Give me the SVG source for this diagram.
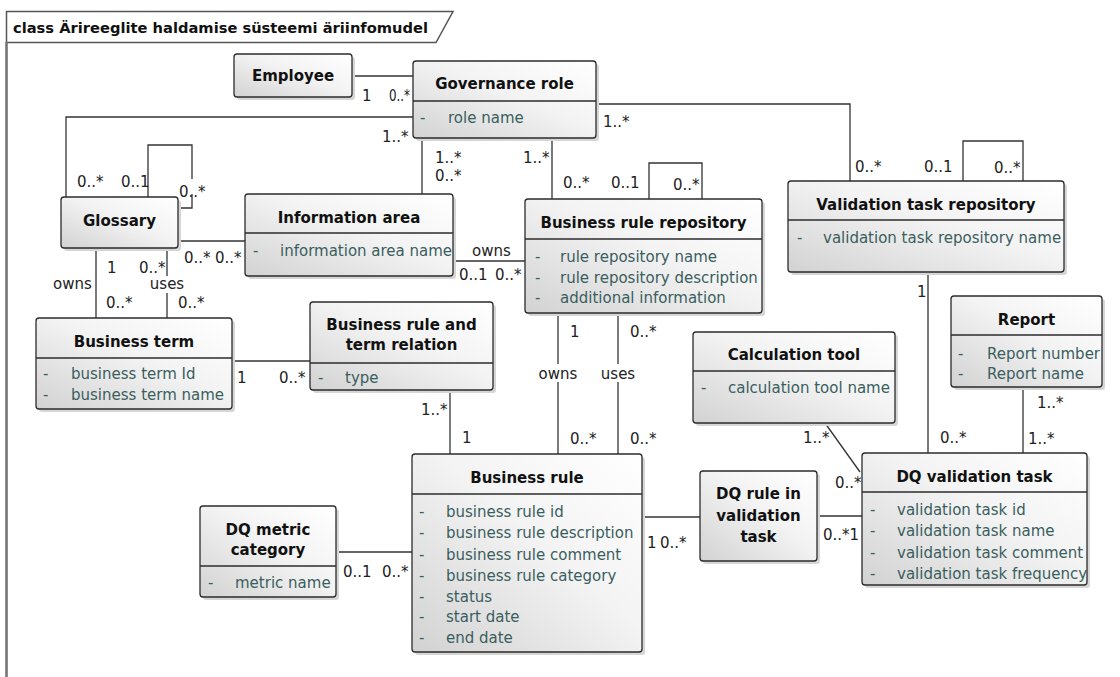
<svg xmlns="http://www.w3.org/2000/svg" width="1120" height="677" viewBox="0 0 1120 677">
<defs>
<linearGradient id="g" x1="0" y1="1" x2="1" y2="0">
<stop offset="0" stop-color="#d2d2d2"/>
<stop offset="0.55" stop-color="#f3f3f3"/>
<stop offset="1" stop-color="#ffffff"/>
</linearGradient>
<style>
.box{fill:url(#g);stroke:#2b2b2b;stroke-width:1.3}
.sh{fill:#d6d6d6}
.div{stroke:#2b2b2b;stroke-width:1.3}
.t{font-family:"DejaVu Sans",Verdana,sans-serif;font-size:15px;font-weight:bold;fill:#111;text-anchor:middle}
.a{font-family:"DejaVu Sans",Verdana,sans-serif;font-size:15px;fill:#3a5e5e}
.m{font-family:"DejaVu Sans",Verdana,sans-serif;font-size:15px;fill:#222}
.mc{font-family:"DejaVu Sans",Verdana,sans-serif;font-size:15px;fill:#222;text-anchor:middle}
.c{fill:none;stroke:#333;stroke-width:1.3}
.bg{fill:#fff}
</style>
</defs>
<rect width="1120" height="677" fill="#fff"/>
<g id="frame">
<path d="M6.5,677 V11.5 H453 L436,42.5 H6.5" fill="none" stroke="#555" stroke-width="1.5"/>
<line x1="6.5" y1="42" x2="6.5" y2="677" stroke="#777" stroke-width="2.5"/>
<text x="13" y="33" font-family="DejaVu Sans,Verdana,sans-serif" font-size="14" font-weight="bold" fill="#111" textLength="415" lengthAdjust="spacingAndGlyphs">class Ärireeglite haldamise süsteemi äriinfomudel</text>
</g>
<g id="connectors">
<path class="c" d="M352,76 H413"/>
<path class="c" d="M413,117 H66 V197"/>
<path class="c" d="M148,197 V145 H192 V208 H178"/>
<path class="c" d="M422,138 V194"/>
<path class="c" d="M552,138 V199"/>
<path class="c" d="M649,199 V163 H702 V199"/>
<path class="c" d="M596,104 H850 V181"/>
<path class="c" d="M963,181 V141 H1023 V181"/>
<path class="c" d="M178,241 H245"/>
<path class="c" d="M453,261 H525"/>
<path class="c" d="M96,248 V318"/>
<path class="c" d="M167,248 V318"/>
<path class="c" d="M232,361 H310"/>
<path class="c" d="M450,390 V454"/>
<path class="c" d="M558,313 V454"/>
<path class="c" d="M618,313 V454"/>
<path class="c" d="M642,517 H700"/>
<path class="c" d="M817,516 H862"/>
<path class="c" d="M825,423 L860,472"/>
<path class="c" d="M928,272 V453"/>
<path class="c" d="M1023,387 V453"/>
<path class="c" d="M336,552 H412"/>
<rect class="bg" x="149" y="276" width="36" height="17"/>
<rect class="bg" x="538" y="364" width="41" height="18"/>
<rect class="bg" x="600" y="364" width="37" height="18"/>
<rect class="bg" x="179" y="179" width="27" height="15"/>
<text class="m" x="362" y="101">1</text>
<text class="m" x="389" y="101" textLength="21" lengthAdjust="spacingAndGlyphs">0..*</text>
<text class="m" x="382" y="142">1..*</text>
<text class="m" x="77" y="187">0..*</text>
<text class="m" x="121" y="187">0..1</text>
<text class="m" x="179" y="197">0..*</text>
<text class="m" x="435" y="163">1..*</text>
<text class="m" x="435" y="181">0..*</text>
<text class="m" x="523" y="163">1..*</text>
<text class="m" x="563" y="188">0..*</text>
<text class="m" x="611" y="188">0..1</text>
<text class="m" x="673" y="190">0..*</text>
<text class="m" x="603" y="127">1..*</text>
<text class="m" x="855" y="172">0..*</text>
<text class="m" x="924" y="172">0..1</text>
<text class="m" x="994" y="173">0..*</text>
<text class="m" x="184" y="263">0..*</text>
<text class="m" x="215" y="263">0..*</text>
<text class="m" x="472" y="256">owns</text>
<text class="m" x="459" y="280">0..1</text>
<text class="m" x="495" y="280">0..*</text>
<text class="m" x="107" y="273">1</text>
<text class="m" x="139" y="273">0..*</text>
<text class="m" x="53" y="289">owns</text>
<text class="mc" x="167" y="289">uses</text>
<text class="m" x="106" y="308">0..*</text>
<text class="m" x="178" y="308">0..*</text>
<text class="m" x="237" y="383">1</text>
<text class="m" x="279" y="383">0..*</text>
<text class="m" x="421" y="415">1..*</text>
<text class="m" x="462" y="443">1</text>
<text class="m" x="570" y="337">1</text>
<text class="mc" x="558" y="379">owns</text>
<text class="m" x="570" y="444">0..*</text>
<text class="m" x="630" y="337">0..*</text>
<text class="mc" x="618" y="379">uses</text>
<text class="m" x="630" y="444">0..*</text>
<text class="m" x="647" y="548">1</text>
<text class="m" x="660" y="548">0..*</text>
<text class="m" x="823" y="540">0..*1</text>
<text class="m" x="803" y="443">1..*</text>
<text class="m" x="835" y="488">0..*</text>
<text class="m" x="917" y="297">1</text>
<text class="m" x="940" y="443">0..*</text>
<text class="m" x="1037" y="408">1..*</text>
<text class="m" x="1028" y="444">1..*</text>
<text class="m" x="343" y="577">0..1</text>
<text class="m" x="382" y="577">0..*</text>
</g>
<g id="employee">
<rect class="sh" x="237" y="57" width="118" height="43" rx="3"/>
<rect class="box" x="234" y="54" width="118" height="43" rx="3"/>
<text class="t" x="293" y="81">Employee</text>
</g>
<g id="governance-role">
<rect class="sh" x="416" y="64" width="183" height="77" rx="3"/>
<rect class="box" x="413" y="61" width="183" height="77" rx="3"/>
<line class="div" x1="413" y1="101" x2="596" y2="101"/>
<text class="t" x="504.5" y="89">Governance role</text>
<text class="a" x="420" y="123">-</text>
<text class="a" x="448" y="123">role name</text>
</g>
<g id="glossary">
<rect class="sh" x="64" y="200" width="117" height="51" rx="3"/>
<rect class="box" x="61" y="197" width="117" height="51" rx="3"/>
<text class="t" x="119.5" y="226">Glossary</text>
</g>
<g id="information-area">
<rect class="sh" x="248" y="197" width="208" height="82" rx="3"/>
<rect class="box" x="245" y="194" width="208" height="82" rx="3"/>
<line class="div" x1="245" y1="233" x2="453" y2="233"/>
<text class="t" x="349" y="223">Information area</text>
<text class="a" x="253" y="256">-</text>
<text class="a" x="280" y="256">information area name</text>
</g>
<g id="business-rule-repository">
<rect class="sh" x="528" y="202" width="237" height="114" rx="3"/>
<rect class="box" x="525" y="199" width="237" height="114" rx="3"/>
<line class="div" x1="525" y1="239" x2="762" y2="239"/>
<text class="t" x="643.5" y="228">Business rule repository</text>
<text class="a" x="535" y="262">-</text>
<text class="a" x="560" y="262">rule repository name</text>
<text class="a" x="535" y="283">-</text>
<text class="a" x="560" y="283">rule repository description</text>
<text class="a" x="535" y="303">-</text>
<text class="a" x="560" y="303">additional information</text>
</g>
<g id="validation-task-repository">
<rect class="sh" x="791" y="184" width="276" height="91" rx="3"/>
<rect class="box" x="788" y="181" width="276" height="91" rx="3"/>
<line class="div" x1="788" y1="220" x2="1064" y2="220"/>
<text class="t" x="926" y="210">Validation task repository</text>
<text class="a" x="797" y="243">-</text>
<text class="a" x="823" y="243">validation task repository name</text>
</g>
<g id="business-term">
<rect class="sh" x="39" y="321" width="196" height="91" rx="3"/>
<rect class="box" x="36" y="318" width="196" height="91" rx="3"/>
<line class="div" x1="36" y1="358" x2="232" y2="358"/>
<text class="t" x="134" y="347">Business term</text>
<text class="a" x="43" y="379">-</text>
<text class="a" x="71" y="379">business term Id</text>
<text class="a" x="43" y="400">-</text>
<text class="a" x="71" y="400">business term name</text>
</g>
<g id="business-rule-and-term-relation">
<rect class="sh" x="313" y="305" width="183" height="88" rx="3"/>
<rect class="box" x="310" y="302" width="183" height="88" rx="3"/>
<line class="div" x1="310" y1="363" x2="493" y2="363"/>
<text class="t" x="401.5" y="330">Business rule and</text>
<text class="t" x="401.5" y="350">term relation</text>
<text class="a" x="318" y="383">-</text>
<text class="a" x="345" y="383">type</text>
</g>
<g id="report">
<rect class="sh" x="954" y="299" width="151" height="91" rx="3"/>
<rect class="box" x="951" y="296" width="151" height="91" rx="3"/>
<line class="div" x1="951" y1="335" x2="1102" y2="335"/>
<text class="t" x="1026.5" y="325">Report</text>
<text class="a" x="958" y="359">-</text>
<text class="a" x="987" y="359">Report number</text>
<text class="a" x="958" y="379">-</text>
<text class="a" x="987" y="379">Report name</text>
</g>
<g id="calculation-tool">
<rect class="sh" x="696" y="335" width="202" height="91" rx="3"/>
<rect class="box" x="693" y="332" width="202" height="91" rx="3"/>
<line class="div" x1="693" y1="371" x2="895" y2="371"/>
<text class="t" x="794" y="360">Calculation tool</text>
<text class="a" x="701" y="393">-</text>
<text class="a" x="728" y="393">calculation tool name</text>
</g>
<g id="dq-validation-task">
<rect class="sh" x="865" y="456" width="225" height="132" rx="3"/>
<rect class="box" x="862" y="453" width="225" height="132" rx="3"/>
<line class="div" x1="862" y1="492" x2="1087" y2="492"/>
<text class="t" x="974.5" y="482">DQ validation task</text>
<text class="a" x="870" y="515">-</text>
<text class="a" x="897" y="515">validation task id</text>
<text class="a" x="870" y="536">-</text>
<text class="a" x="897" y="536">validation task name</text>
<text class="a" x="870" y="558">-</text>
<text class="a" x="897" y="558">validation task comment</text>
<text class="a" x="870" y="579">-</text>
<text class="a" x="897" y="579">validation task frequency</text>
</g>
<g id="dq-rule-in-validation-task">
<rect class="sh" x="703" y="474" width="117" height="90" rx="3"/>
<rect class="box" x="700" y="471" width="117" height="90" rx="3"/>
<text class="t" x="758.5" y="499">DQ rule in</text>
<text class="t" x="758.5" y="521">validation</text>
<text class="t" x="758.5" y="542">task</text>
</g>
<g id="business-rule">
<rect class="sh" x="415" y="457" width="230" height="198" rx="3"/>
<rect class="box" x="412" y="454" width="230" height="198" rx="3"/>
<line class="div" x1="412" y1="494" x2="642" y2="494"/>
<text class="t" x="527" y="483">Business rule</text>
<text class="a" x="419" y="517">-</text>
<text class="a" x="446" y="517">business rule id</text>
<text class="a" x="419" y="538">-</text>
<text class="a" x="446" y="538">business rule description</text>
<text class="a" x="419" y="560">-</text>
<text class="a" x="446" y="560">business rule comment</text>
<text class="a" x="419" y="581">-</text>
<text class="a" x="446" y="581">business rule category</text>
<text class="a" x="419" y="602">-</text>
<text class="a" x="446" y="602">status</text>
<text class="a" x="419" y="622">-</text>
<text class="a" x="446" y="622">start date</text>
<text class="a" x="419" y="643">-</text>
<text class="a" x="446" y="643">end date</text>
</g>
<g id="dq-metric-category">
<rect class="sh" x="203" y="509" width="136" height="91" rx="3"/>
<rect class="box" x="200" y="506" width="136" height="91" rx="3"/>
<line class="div" x1="200" y1="566" x2="336" y2="566"/>
<text class="t" x="268" y="535">DQ metric</text>
<text class="t" x="268" y="555">category</text>
<text class="a" x="208" y="588">-</text>
<text class="a" x="235" y="588">metric name</text>
</g>
</svg>
